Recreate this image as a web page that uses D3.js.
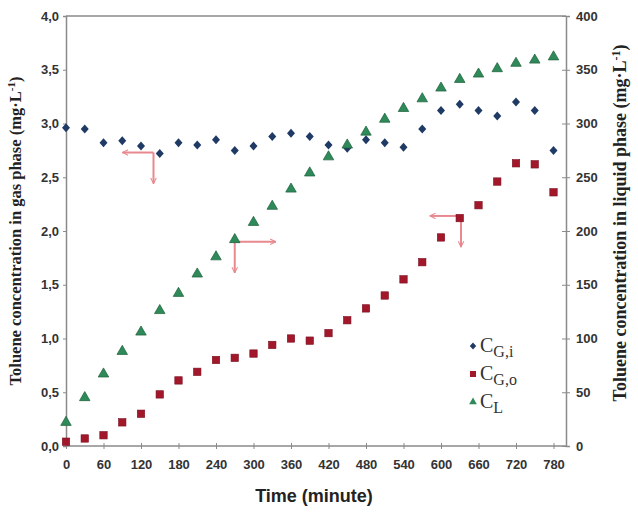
<!DOCTYPE html>
<html><head><meta charset="utf-8">
<script src="https://cdn.jsdelivr.net/npm/d3@7"></script>
<style>body{margin:0;background:#fff}</style>
</head><body>
<svg id="c" width="638" height="513"></svg>
<script>
const times = [0,30,60,90,120,150,180,210,240,270,300,330,360,390,420,450,480,510,540,570,600,630,660,690,720,750,780];
const cGi = [2.96,2.95,2.82,2.84,2.79,2.72,2.82,2.80,2.85,2.75,2.79,2.88,2.91,2.88,2.80,2.77,2.85,2.82,2.78,2.95,3.12,3.18,3.12,3.07,3.20,3.12,2.75];
const cGo = [0.04,0.07,0.10,0.22,0.30,0.48,0.61,0.69,0.80,0.82,0.86,0.94,1.00,0.98,1.05,1.17,1.28,1.40,1.55,1.71,1.94,2.12,2.24,2.46,2.63,2.62,2.36];
const cL  = [22,45,67,88,106,126,142,160,176,192,208,223,239,254,269,280,292,304,314,323,333,341,346,351,356,359,362];
const xTicks = [0,60,120,180,240,300,360,420,480,540,600,660,720,780];
const yLeftTicks = [0,0.5,1,1.5,2,2.5,3,3.5,4];
const yRightTicks = [0,50,100,150,200,250,300,350,400];
// arrows: [x, y(left axis units), direction-horizontal(-1 left/+1 right)]
const arrowCorners = [[140,2.73,-1],[270,1.90,1],[632,2.14,-1]];

const svg = d3.select("#c");
const L=66,R=566,T=16,B=446;
const x = d3.scaleLinear().domain([0,800]).range([L,R]);
const yL = d3.scaleLinear().domain([0,4]).range([B,T]);
const yR = d3.scaleLinear().domain([0,400]).range([B,T]);
const axisCol="#8a8a8a", textCol="#333";

// frame top line
svg.append("line").attr("x1",L).attr("x2",R).attr("y1",T).attr("y2",T).attr("stroke",axisCol).attr("stroke-width",1.5);

const fmt = d=>d3.format(".1f")(d).replace(".",",");
const gL = svg.append("g").attr("transform",`translate(${L},0)`).call(d3.axisLeft(yL).tickValues(yLeftTicks).tickFormat(fmt).tickSize(3).tickPadding(4));
const gR = svg.append("g").attr("transform",`translate(${R},0)`).call(d3.axisRight(yR).tickValues(yRightTicks).tickSize(4).tickPadding(6));
const gB = svg.append("g").attr("transform",`translate(0,${B})`).call(d3.axisBottom(x).tickValues(xTicks).tickSize(3).tickPadding(11));
gR.selectAll(".tick line").attr("x1",-4);
gB.selectAll(".tick line").attr("y1",-3);
[gL,gR,gB].forEach(g=>{
  g.select(".domain").attr("stroke",axisCol).attr("stroke-width",1.5);
  g.selectAll(".tick line").attr("stroke",axisCol);
  g.selectAll("text").attr("fill",textCol).style("font-family","Liberation Sans, Arial, sans-serif").style("font-weight","bold").style("font-size","13px");
});
gB.selectAll(".domain").attr("d",`M${L},0H${R}`);

// arrows
const arrowCol="#e8888f";
const defs=svg.append("defs");
defs.append("marker").attr("id","ah").attr("viewBox","0 0 10 10").attr("refX",9).attr("refY",5)
  .attr("markerWidth",7).attr("markerHeight",7).attr("orient","auto-start-reverse").attr("markerUnits","userSpaceOnUse")
  .append("path").attr("d","M1,1L9,5L1,9").attr("fill","none").attr("stroke",arrowCol).attr("stroke-width",1.5);
arrowCorners.forEach(([t,v,dir])=>{
  const cx=x(t), cy=yL(v);
  svg.append("line").attr("x1",cx).attr("y1",cy).attr("x2",cx+dir*(dir<0?31:41)).attr("y2",cy)
    .attr("stroke",arrowCol).attr("stroke-width",2).attr("marker-end","url(#ah)");
  svg.append("line").attr("x1",cx).attr("y1",cy).attr("x2",cx).attr("y2",cy+31)
    .attr("stroke",arrowCol).attr("stroke-width",2).attr("marker-end","url(#ah)");
});

const cols={gi:"#1f3a64",go:"#a3172b",l:"#2f8a5a"};
const sym = (type,size)=>d3.symbol().type(type).size(size)();
const diamond = "M0,-4.5L4,0L0,4.5L-4,0Z";
svg.append("g").selectAll("path").data(times).join("path")
  .attr("d",diamond).attr("transform",(d,i)=>`translate(${x(d)},${yL(cGi[i])})`).attr("fill",cols.gi);
svg.append("g").selectAll("rect").data(times).join("rect")
  .attr("x",d=>x(d)-3.7).attr("y",(d,i)=>yL(cGo[i])-3.7).attr("width",7.4).attr("height",7.4).attr("fill",cols.go).attr("stroke","#7a1020").attr("stroke-width",0.6);
svg.append("g").selectAll("path").data(times).join("path")
  .attr("d",sym(d3.symbolTriangle,48)).attr("transform",(d,i)=>`translate(${x(d)},${yR(cL[i])})`).attr("fill",cols.l).attr("stroke","#1d5e3a").attr("stroke-width",0.7);

// legend
const leg = svg.append("g").attr("transform","translate(473,346)");
const legItems=[["G,i","gi"],["G,o","go"],["L","l"]];
legItems.forEach(([sub,k],i)=>{
  const g=leg.append("g").attr("transform",`translate(0,${i*28})`);
  if(k==="gi") g.append("path").attr("d","M0,-3.5L3.2,0L0,3.5L-3.2,0Z").attr("fill",cols.gi);
  if(k==="go") g.append("rect").attr("x",-3).attr("y",-3).attr("width",6).attr("height",6).attr("fill",cols.go);
  if(k==="l") g.append("path").attr("d",sym(d3.symbolTriangle,26)).attr("fill",cols.l);
  const t=g.append("text").attr("x",7).attr("y",6).attr("fill","#333").style("font-family","Liberation Serif, Times New Roman, serif").style("font-size","20px");
  t.append("tspan").text("C");
  t.append("tspan").attr("dy",5).style("font-size","16px").text(sub);
});

// titles
svg.append("text").attr("transform",`translate(21,${(T+B)/2}) rotate(-90)`).attr("text-anchor","middle")
  .style("font-family","Liberation Serif, Times New Roman, serif").style("font-weight","bold").style("font-size","16.5px").attr("fill","#222")
  .html("Toluene concentration in gas phase (mg·L<tspan dy='-6' font-size='11px'>-1</tspan><tspan dy='6'>)</tspan>");
svg.append("text").attr("transform",`translate(626,${(T+B)/2-8}) rotate(-90)`).attr("text-anchor","middle")
  .style("font-family","Liberation Serif, Times New Roman, serif").style("font-weight","bold").style("font-size","18px").attr("fill","#222")
  .html("Toluene concentration in liquid phase (mg·L<tspan dy='-6' font-size='12px'>-1</tspan><tspan dy='6'>)</tspan>");
svg.append("text").attr("x",314).attr("y",502).attr("text-anchor","middle")
  .style("font-family","Liberation Sans, Arial, sans-serif").style("font-weight","bold").style("font-size","18px").attr("fill","#222")
  .text("Time (minute)");
</script>
</body></html>
